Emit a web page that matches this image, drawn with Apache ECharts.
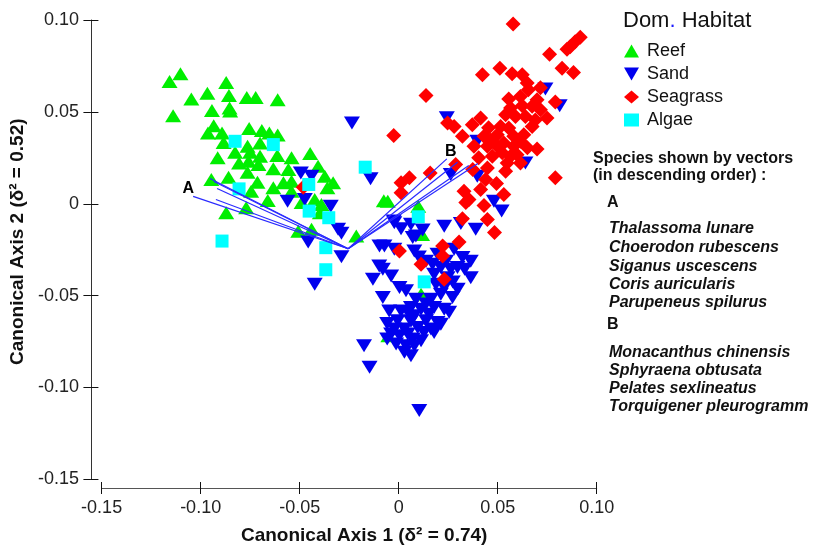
<!DOCTYPE html>
<html>
<head>
<meta charset="utf-8">
<script src="https://cdn.jsdelivr.net/npm/echarts@6/dist/echarts.min.js"></script>
<style>
  html, body { margin: 0; padding: 0; background: #fff; }
  #chart { width: 814px; height: 550px; }
</style>
</head>
<body>
<div id="chart"></div>
<script>
// Canonical analysis of principal coordinates: site scores by dominant habitat
const habitats = ['Reef', 'Sand', 'Seagrass', 'Algae'];

const reefPts = [
  [-0.1157,0.0665],[-0.1102,0.0707],[-0.0871,0.0660],[-0.1047,0.0570],[-0.0966,0.0602],
  [-0.0857,0.0589],[-0.0767,0.0578],[-0.0722,0.0578],[-0.0611,0.0566],[-0.1139,0.0479],
  [-0.0943,0.0508],[-0.0854,0.0521],[-0.0851,0.0505],[-0.0934,0.0425],[-0.0963,0.0385],
  [-0.0892,0.0385],[-0.0755,0.0409],[-0.0691,0.0399],[-0.0653,0.0385],[-0.0611,0.0374],
  [-0.0884,0.0334],[-0.0763,0.0313],[-0.0700,0.0331],[-0.0826,0.0280],[-0.0750,0.0280],
  [-0.0700,0.0258],[-0.0613,0.0262],[-0.0541,0.0250],[-0.0447,0.0273],[-0.0914,0.0250],
  [-0.0806,0.0222],[-0.0758,0.0231],[-0.0708,0.0213],[-0.0633,0.0190],[-0.0557,0.0186],
  [-0.0407,0.0204],[-0.0763,0.0171],[-0.0946,0.0132],[-0.0859,0.0144],[-0.0713,0.0117],
  [-0.0633,0.0087],[-0.0582,0.0114],[-0.0541,0.0123],[-0.0373,0.0150],[-0.0331,0.0114],
  [-0.0360,0.0087],[-0.0745,0.0068],[-0.0541,0.0068],[-0.0424,0.0023],[-0.0661,0.0018],
  [-0.0770,-0.0022],[-0.0871,-0.0049],[-0.0398,-0.0049],[-0.0440,-0.0139],[-0.0507,-0.0149],
  [-0.0214,-0.0176],[-0.0490,0.0007],[-0.0390,-0.0004],[-0.0055,0.0014],[-0.0075,0.0016],
  [0.0099,-0.0013],[0.0118,-0.0167],[0.0113,-0.0492],[-0.0052,-0.0718]
];

const sandPts = [
  [-0.0236,0.0440],[-0.0142,0.0136],[-0.0494,0.0168],[-0.0440,0.0150],[-0.0561,0.0014],
  [-0.0474,0.0023],[-0.0343,-0.0013],[-0.0306,-0.0139],[-0.0289,-0.0161],[-0.0457,-0.0208],
  [-0.0289,-0.0289],[-0.0424,-0.0438],[-0.0022,-0.0103],[0.0012,-0.0136],[0.0062,-0.0112],
  [0.0121,-0.0143],[0.0071,-0.0184],[0.0230,-0.0122],[0.0314,-0.0107],[0.0389,-0.0139],
  [-0.0072,-0.0230],[-0.0022,-0.0248],[0.0079,-0.0257],[0.0196,-0.0275],[0.0280,-0.0248],
  [0.0322,-0.0293],[0.0171,-0.0329],[0.0213,-0.0347],[0.0263,-0.0356],[0.0297,-0.0347],
  [0.0179,-0.0384],[0.0247,-0.0402],[0.0364,-0.0402],[-0.0080,-0.0356],[-0.0130,-0.0411],
  [-0.0038,-0.0393],[0.0004,-0.0456],[0.0037,-0.0474],[0.0188,-0.0438],[0.0230,-0.0456],
  [-0.0080,-0.0510],[0.0163,-0.0519],[0.0272,-0.0510],[0.0062,-0.0564],[0.0113,-0.0574],
  [0.0179,-0.0564],[0.0230,-0.0574],[0.0046,-0.0591],[0.0255,-0.0591],[0.0079,-0.0610],
  [-0.0005,-0.0637],[0.0138,-0.0637],[0.0196,-0.0646],[-0.0022,-0.0682],[0.0029,-0.0682],
  [0.0096,-0.0673],[0.0163,-0.0682],[0.0179,-0.0700],[-0.0038,-0.0709],[0.0004,-0.0718],
  [0.0046,-0.0709],[0.0071,-0.0736],[0.0113,-0.0746],[-0.0013,-0.0763],[0.0037,-0.0773],
  [0.0079,-0.0773],[0.0029,-0.0808],[0.0062,-0.0827],[-0.0175,-0.0773],[-0.0147,-0.0890],
  [0.0104,-0.1125],[0.0741,0.0624],[0.0813,0.0533],[0.0640,0.0222],[0.0263,0.0159],
  [0.0397,0.0150],[0.0481,0.0014],[0.0520,-0.0040],[0.0243,0.0468],[0.0397,0.0340],
  [-0.0025,-0.0094],[0.0087,-0.0176],[-0.0097,-0.0230],[-0.0098,-0.0339],[0.0138,-0.0313],
  [0.0239,-0.0313],[0.0213,-0.0492],[0.0087,-0.0519],[0.0138,-0.0546],[-0.0048,-0.0584],
  [0.0012,-0.0584],[0.0153,-0.0601],[-0.0058,-0.0651],[0.0062,-0.0640],[0.0128,-0.0700],
  [0.0213,-0.0656],[-0.0058,-0.0736],[0.0273,-0.0426],[0.0333,-0.0356],[0.0298,-0.0465],
  [0.0102,-0.0290],[0.0364,-0.0313]
];

const seagrassPts = [
  [0.0578,0.0978],[0.0917,0.0906],[0.0891,0.0882],[0.0866,0.0855],[0.0850,0.0841],
  [0.0762,0.0814],[0.0825,0.0738],[0.0883,0.0714],[0.0423,0.0702],[0.0511,0.0738],
  [0.0573,0.0707],[0.0624,0.0702],[0.0649,0.0657],[0.0138,0.0589],[0.0556,0.0570],
  [0.0615,0.0584],[0.0699,0.0566],[0.0624,0.0533],[0.0674,0.0530],[0.0716,0.0512],
  [0.0749,0.0467],[0.0540,0.0485],[0.0590,0.0475],[0.0640,0.0475],[0.0247,0.0440],
  [0.0280,0.0421],[0.0372,0.0430],[0.0414,0.0467],[0.0322,0.0367],[0.0431,0.0367],
  [0.0515,0.0421],[0.0556,0.0412],[0.0498,0.0376],[0.0581,0.0367],[0.0632,0.0376],
  [0.0674,0.0421],[-0.0025,0.0372],[0.0380,0.0313],[0.0448,0.0313],[0.0498,0.0313],
  [0.0531,0.0331],[0.0581,0.0313],[0.0615,0.0340],[0.0699,0.0298],[0.0473,0.0258],
  [0.0523,0.0277],[0.0565,0.0258],[0.0598,0.0267],[0.0615,0.0222],[0.0548,0.0222],
  [0.0448,0.0195],[0.0540,0.0177],[0.0791,0.0141],[0.0159,0.0168],[0.0054,0.0141],
  [0.0012,0.0114],[0.0012,0.0060],[0.0494,0.0110],[0.0330,0.0068],[0.0414,0.0078],
  [0.0355,0.0023],[0.0531,0.0050],[0.0431,-0.0009],[0.0322,-0.0081],[0.0448,-0.0085],
  [0.0484,-0.0157],[0.0004,-0.0257],[0.0222,-0.0230],[0.0305,-0.0208],[0.0113,-0.0329],
  [0.0222,-0.0284],[0.0230,-0.0411],[0.0339,0.0007],[-0.0482,0.0090],[0.0454,0.0414],
  [0.0565,0.0521],[0.0655,0.0620],[0.0690,0.0456],[0.0464,0.0345],[0.0650,0.0305],
  [0.0404,0.0251],[0.0439,0.0132],[0.0288,0.0213],[0.0374,0.0186],[0.0716,0.0631],
  [0.0791,0.0554]
];

const algaePts = [
  [-0.0826,0.0340],[-0.0633,0.0322],[-0.0806,0.0081],[-0.0454,0.0105],[-0.0452,-0.0040],
  [-0.0353,-0.0076],[-0.0892,-0.0203],[-0.0368,-0.0239],[-0.0368,-0.0359],[-0.0169,0.0199],
  [0.0099,-0.0071],[0.0129,-0.0425]
];

// Species vectors (correlations scaled onto the CAP axes)
const vectorOrigin = [-0.0255, -0.0245];
const vectorEndsA = [[-0.1038,0.0040],[-0.0953,0.0137],[-0.0933,0.0121],[-0.0917,0.0083],[-0.0923,0.0023]];
const vectorEndsB = [[0.0243,0.0244],[0.0297,0.0226],[0.0354,0.0208],[0.0400,0.0219]];
const vectorTags = [{ name: 'A', value: [-0.1063, 0.0083] }, { name: 'B', value: [0.0263, 0.0284] }];

const speciesA = ['Thalassoma lunare', 'Choerodon rubescens', 'Siganus uscescens', 'Coris auricularis', 'Parupeneus spilurus'];
const speciesB = ['Monacanthus chinensis', 'Sphyraena obtusata', 'Pelates sexlineatus', 'Torquigener pleurogramm'];

const FONT = '"Liberation Sans", Arial, Helvetica, sans-serif';
const colors = { Reef: '#00ee00', Sand: '#0000ee', Seagrass: '#ff0000', Algae: '#00ffff' };
const upTri = 'path://M5,0 L10,8.66 L0,8.66 Z';
const downTri = 'path://M0,0 L10,0 L5,8.66 Z';

const chart = echarts.init(document.getElementById('chart'), null, { renderer: 'canvas' });

const axisCommon = {
  type: 'value', min: -0.15, max: 0.1, interval: 0.05,
  splitLine: { show: false }
};
const fmt = v => (Math.abs(v) < 1e-9 ? '0' : v.toFixed(2));

function scatter(name, pts, symbol, size) {
  return {
    name, type: 'scatter', data: pts, symbol, symbolSize: size,
    itemStyle: { color: colors[name], opacity: 1 },
    emphasis: { disabled: true }, z: 2
  };
}

// text block listing species shown by the vectors
const sideX = 593, nameX = 609;
const graphics = [
  {
    type: 'text', x: 623, y: 21,
    style: {
      text: '{a|Dom}{b|.}{a| Habitat}', textVerticalAlign: 'middle', verticalAlign: 'middle',
      rich: {
        a: { font: '22px ' + FONT, fill: '#111' },
        b: { font: '22px ' + FONT, fill: '#1a1aff' }
      }
    }
  },
  { type: 'text', x: sideX, y: 159, style: { text: 'Species shown by vectors', font: 'bold 16px ' + FONT, fill: '#111', textVerticalAlign: 'middle', verticalAlign: 'middle' } },
  { type: 'text', x: sideX, y: 176, style: { text: '(in descending order) :', font: 'bold 16px ' + FONT, fill: '#111', textVerticalAlign: 'middle', verticalAlign: 'middle' } },
  { type: 'text', x: 607, y: 203, style: { text: 'A', font: 'bold 16px ' + FONT, fill: '#111', textVerticalAlign: 'middle', verticalAlign: 'middle' } },
  { type: 'text', x: 607, y: 325, style: { text: 'B', font: 'bold 16px ' + FONT, fill: '#111', textVerticalAlign: 'middle', verticalAlign: 'middle' } }
];
const rowsA = [229, 248, 267, 285, 303];
const rowsB = [353, 371, 389, 407];
speciesA.forEach((s, i) => graphics.push({ type: 'text', x: nameX, y: rowsA[i], style: { text: s, font: 'italic bold 16px ' + FONT, fill: '#111', textVerticalAlign: 'middle', verticalAlign: 'middle' } }));
speciesB.forEach((s, i) => graphics.push({ type: 'text', x: nameX, y: rowsB[i], style: { text: s, font: 'italic bold 16px ' + FONT, fill: '#111', textVerticalAlign: 'middle', verticalAlign: 'middle' } }));

const vectorLines = vectorEndsA.concat(vectorEndsB).map(e => ({ coords: [vectorOrigin, e] }));

chart.setOption({
  animation: false,
  backgroundColor: '#ffffff',
  textStyle: { fontFamily: FONT },
  grid: { left: 99, right: 217.3, top: 20, bottom: 69.3, containLabel: false },
  xAxis: [
    Object.assign({}, axisCommon, {
      position: 'bottom', offset: 8.6,
      axisLine: { show: true, onZero: false, lineStyle: { color: '#555', width: 1 } },
      axisTick: { show: true, inside: false, length: 6, lineStyle: { color: '#111' } },
      axisLabel: { formatter: fmt, fontSize: 18, color: '#222', margin: 11, fontFamily: FONT },
      name: 'Canonical Axis 1 (δ² = 0.74)', nameLocation: 'middle', nameGap: 38,
      nameTextStyle: { fontSize: 19, fontWeight: 'bold', color: '#111', fontFamily: FONT, padding: [0, 0, 0, 30] }
    }),
    Object.assign({}, axisCommon, {
      position: 'bottom', offset: 8.6,
      axisLine: { show: false, onZero: false },
      axisTick: { show: true, inside: true, length: 6, lineStyle: { color: '#111' } },
      axisLabel: { show: false }
    })
  ],
  yAxis: [
    Object.assign({}, axisCommon, {
      position: 'left', offset: 10.7,
      axisLine: { show: true, onZero: false, lineStyle: { color: '#333', width: 1 } },
      axisTick: { show: true, inside: false, length: 7.5, lineStyle: { color: '#111' } },
      axisLabel: { formatter: fmt, fontSize: 18, color: '#222', margin: 12, fontFamily: FONT },
      name: 'Canonical Axis 2 (δ² = 0.52)', nameLocation: 'middle', nameGap: 56, nameRotate: 90,
      nameTextStyle: { fontSize: 19, fontWeight: 'bold', color: '#111', fontFamily: FONT, padding: [0, 0, 0, 16] }
    }),
    Object.assign({}, axisCommon, {
      position: 'left', offset: 10.7,
      axisLine: { show: false, onZero: false },
      axisTick: { show: true, inside: true, length: 7.5, lineStyle: { color: '#111' } },
      axisLabel: { show: false }
    })
  ],
  legend: {
    orient: 'vertical', left: 619, top: 37, itemWidth: 15, itemHeight: 13, itemGap: 5,
    textStyle: { fontSize: 18, color: '#111', fontFamily: FONT, padding: [0, 0, 0, 3] },
    selectedMode: false,
    data: [
      { name: 'Reef', icon: upTri },
      { name: 'Sand', icon: downTri },
      { name: 'Seagrass', icon: 'diamond' },
      { name: 'Algae', icon: 'rect' }
    ]
  },
  graphic: graphics,
  series: [
    scatter('Reef', reefPts, 'triangle', [16, 13]),
    scatter('Sand', sandPts, downTri, [16, 13]),
    scatter('Seagrass', seagrassPts, 'diamond', [15, 15]),
    scatter('Algae', algaePts, 'rect', [13, 13]),
    {
      name: 'vectors', type: 'lines', coordinateSystem: 'cartesian2d',
      data: vectorLines, silent: true, z: 5,
      lineStyle: { color: '#2a2aff', width: 1.2, opacity: 1, curveness: 0 }
    },
    {
      name: 'vectorTags', type: 'scatter', data: vectorTags, symbolSize: 2,
      itemStyle: { color: '#ffffff', opacity: 0.01 }, silent: true, z: 6,
      label: {
        show: true, position: 'top', distance: -9, formatter: '{b}',
        fontSize: 16, fontWeight: 'bold', color: '#000000', opacity: 1,
        textBorderWidth: 0, fontFamily: FONT
      }
    }
  ]
});
</script>
</body>
</html>
